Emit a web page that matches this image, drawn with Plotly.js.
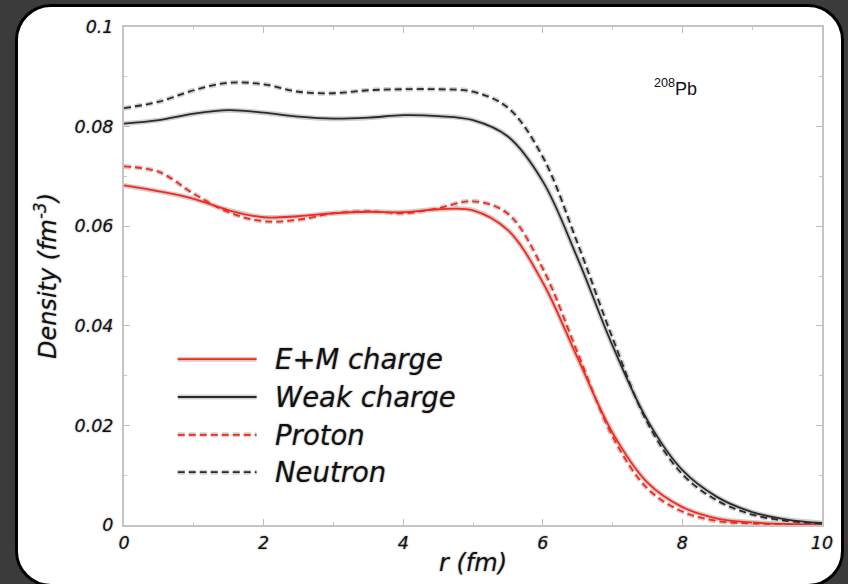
<!DOCTYPE html>
<html>
<head>
<meta charset="utf-8">
<script src="https://cdn.plot.ly/plotly-3.0.1.min.js"></script>
<style>
  html, body { margin: 0; padding: 0; width: 848px; height: 584px; background: #3b3b3b; overflow: hidden; }
  #card { position: absolute; left: 15px; top: 4px; width: 829px; height: 583px; background: #ffffff;
          border: 3px solid #000; border-radius: 36px; box-sizing: border-box; }
  #chart { position: absolute; left: 0; top: 0; width: 848px; height: 584px; }
</style>
</head>
<body>
<div id="card"></div>
<div id="chart"></div>
<script>
// radius (fm)
const r = [0, 0.5, 1, 1.5, 2, 2.5, 3, 3.5, 4, 4.5, 5, 5.5, 6, 6.5, 7, 7.5, 8, 8.5, 9, 9.5, 10];
// densities (fm^-3)
const emCharge   = [0.0682, 0.0670, 0.0655, 0.0632, 0.0618, 0.0620, 0.0626, 0.0629, 0.0628, 0.0634, 0.0632, 0.0592, 0.0487, 0.0335, 0.0185, 0.0085, 0.0036, 0.0013, 0.0005, 0.0002, 0.0001];
const weakCharge = [0.0806, 0.0813, 0.0826, 0.0833, 0.0828, 0.0820, 0.0816, 0.0818, 0.0823, 0.0821, 0.0813, 0.0780, 0.0690, 0.0535, 0.0360, 0.0210, 0.0110, 0.0056, 0.0026, 0.0011, 0.0004];
const proton     = [0.0720, 0.0709, 0.0665, 0.0628, 0.0610, 0.0613, 0.0626, 0.0630, 0.0626, 0.0636, 0.0650, 0.0625, 0.0515, 0.0345, 0.0178, 0.0073, 0.0027, 0.0008, 0.0003, 0.0001, 0.0000];
const neutron    = [0.0837, 0.0850, 0.0873, 0.0888, 0.0885, 0.0870, 0.0867, 0.0873, 0.0875, 0.0875, 0.0870, 0.0838, 0.0739, 0.0565, 0.0375, 0.0205, 0.0102, 0.0049, 0.0021, 0.0008, 0.0003];

const seriesNames  = ["E+M charge", "Weak charge", "Proton", "Neutron"];
const seriesValues = [emCharge, weakCharge, proton, neutron];
const seriesColors = ["#ff2418", "#2a2a2a", "#ff2418", "#2a2a2a"];
const seriesDash   = ["solid", "solid", "7px,4px", "7px,4px"];

const xTicks = [0, 2, 4, 6, 8, 10];
const yTicks = [0, 0.02, 0.04, 0.06, 0.08, 0.1];
const yTickText = ["0", "0.02", "0.04", "0.06", "0.08", "0.1"];
const nucleusLabel = "<sup>208</sup>Pb";

const halo = "0px 0px 2px #8a8a8a";
const txtFont = (size) => ({ family: "DejaVu Sans, sans-serif", size: size, color: "#111", style: "italic", shadow: halo });

const traces = [];
// light gray halo under every curve
seriesValues.forEach((vals, i) => {
  traces.push({ x: r, y: vals, type: "scatter", mode: "lines", showlegend: false, hoverinfo: "skip",
    line: { color: "#cfcfcf", width: 5, shape: "spline", smoothing: 1, dash: seriesDash[i] } });
});
seriesValues.forEach((vals, i) => {
  traces.push({ x: r, y: vals, type: "scatter", mode: "lines", name: seriesNames[i], showlegend: false,
    line: { color: seriesColors[i], width: 1.8, shape: "spline", smoothing: 1, dash: seriesDash[i] } });
});

// custom legend (long line swatches as in the reference)
const legendRowsY = [0.333, 0.257, 0.181, 0.106];
const shapes = [];
const annotations = [];
seriesNames.forEach((name, i) => {
  shapes.push({ type: "line", xref: "paper", yref: "paper", x0: 0.077, x1: 0.19, y0: legendRowsY[i], y1: legendRowsY[i],
    line: { color: "#cfcfcf", width: 5, dash: seriesDash[i] } });
  shapes.push({ type: "line", xref: "paper", yref: "paper", x0: 0.077, x1: 0.19, y0: legendRowsY[i], y1: legendRowsY[i],
    line: { color: seriesColors[i], width: 1.8, dash: seriesDash[i] } });
  annotations.push({ xref: "paper", yref: "paper", x: 0.213, y: legendRowsY[i], xanchor: "left", yanchor: "middle",
    text: name, showarrow: false, font: txtFont(27.5) });
});
annotations.push({ xref: "x", yref: "y", x: 7.9, y: 0.0878, text: nucleusLabel, showarrow: false,
  font: { family: "Liberation Sans, Arial, sans-serif", size: 18, color: "#111" } });

const layout = {
  width: 848, height: 584,
  margin: { l: 124, r: 26, t: 27, b: 59 },
  paper_bgcolor: "rgba(0,0,0,0)",
  plot_bgcolor: "#ffffff",
  xaxis: {
    range: [0, 10], tickvals: xTicks, ticktext: xTicks.map(String),
    showgrid: false, zeroline: false,
    showline: true, linecolor: "#c4c4c4", linewidth: 2, mirror: "ticks",
    ticks: "inside", ticklen: 6, tickcolor: "#bdbdbd", tickwidth: 1,
    minor: { dtick: 1, tick0: 0, ticks: "inside", ticklen: 3, tickcolor: "#c8c8c8", showgrid: false },
    tickfont: txtFont(17.5), ticklabelstandoff: 1,
    title: { text: "r (fm)", font: txtFont(24), standoff: 2 }
  },
  yaxis: {
    range: [0, 0.1], tickvals: yTicks, ticktext: yTickText,
    showgrid: false, zeroline: false,
    showline: true, linecolor: "#c4c4c4", linewidth: 2, mirror: "ticks",
    ticks: "inside", ticklen: 6, tickcolor: "#bdbdbd", tickwidth: 1,
    minor: { dtick: 0.01, tick0: 0, ticks: "inside", ticklen: 3, tickcolor: "#c8c8c8", showgrid: false },
    tickfont: txtFont(17.5), ticklabelstandoff: 5,
    title: { text: "Density (fm<sup>-3</sup>)", font: txtFont(24), standoff: 11 }
  },
  shapes: shapes,
  annotations: annotations,
  showlegend: false
};

Plotly.newPlot("chart", traces, layout, { displayModeBar: false, staticPlot: true });
</script>
</body>
</html>
